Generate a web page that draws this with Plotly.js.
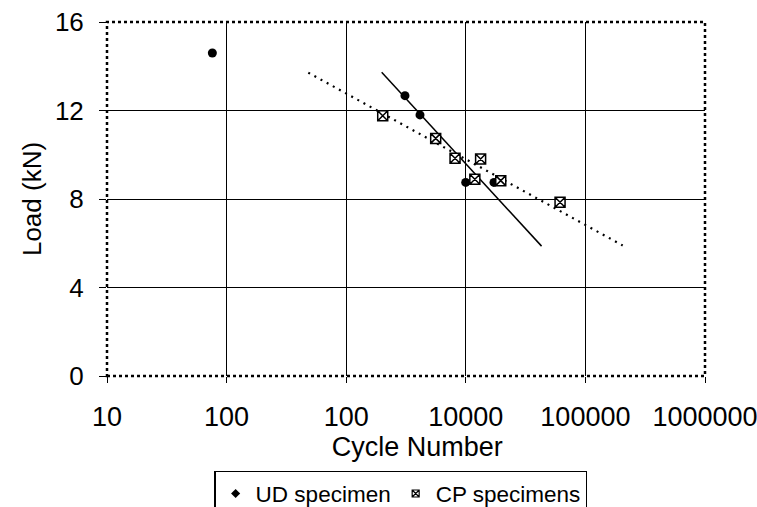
<!DOCTYPE html>
<html>
<head>
<meta charset="utf-8">
<script src="https://cdn.plot.ly/plotly-3.0.1.min.js"></script>
<style>html,body{margin:0;padding:0;background:#fff;}#chart{width:757px;height:507px;}</style>
</head>
<body>
<div id="chart"></div>
<script>
// UD specimen data
const udCycles = [76, 3100, 4140, 9980, 17200];
const udLoad = [14.6, 12.67, 11.8, 8.75, 8.75];
// CP specimens data
const cpCycles = [2020, 5600, 8130, 13300, 11900, 19600, 61400];
const cpLoad = [11.76, 10.74, 9.84, 9.81, 8.89, 8.83, 7.85];
// Trend lines (endpoints)
const udTrendX = [1980, 43000];
const udTrendY = [13.73, 5.87];
const cpTrendX = [482, 205000];
const cpTrendY = [13.71, 5.9];
// Axis ticks
const xTickVals = [10, 100, 1000, 10000, 100000, 1000000];
const xTickText = ["10", "100", "100", "10000", "100000", "1000000"];
const yTickVals = [0, 4, 8, 12, 16];

const FONT = "Liberation Sans, Arial, sans-serif";

const traces = [
  {x: udTrendX, y: udTrendY, mode: 'lines', line: {color: '#000', width: 1.5}, showlegend: false, hoverinfo: 'skip'},
  {x: cpTrendX, y: cpTrendY, mode: 'lines', line: {color: '#000', width: 2.2, dash: '2px,5px'}, showlegend: false, hoverinfo: 'skip'},
  {x: udCycles, y: udLoad, mode: 'markers', name: 'UD specimen', showlegend: false,
   marker: {symbol: 'circle', size: 9, color: '#000'}},
  {x: cpCycles, y: cpLoad, mode: 'markers', name: 'CP specimens', showlegend: false,
   marker: {symbol: 'square-x', size: 10, color: '#fff', line: {color: '#000', width: 1.5}}},
  // legend entries
  {x: [null], y: [null], mode: 'markers', name: 'UD specimen',
   marker: {symbol: 'diamond', size: 7, color: '#000'}},
  {x: [null], y: [null], mode: 'markers', name: 'CP specimens',
   marker: {symbol: 'square-x', size: 7, color: '#fff', line: {color: '#000', width: 1.2}}}
];

const layout = {
  width: 757, height: 507,
  margin: {l: 107, r: 52, t: 22, b: 131, autoexpand: false},
  paper_bgcolor: '#fff', plot_bgcolor: '#fff',
  font: {family: FONT, color: '#000', size: 24},
  showlegend: true,
  legend: {
    orientation: 'h', x: 0.491, xanchor: 'center', y: -0.268, yanchor: 'top',
    bordercolor: '#000', borderwidth: 1.5, bgcolor: '#fff',
    font: {family: FONT, size: 22.5, color: '#000'},
    itemwidth: 30, tracegroupgap: 0
  },
  xaxis: {
    type: 'log', range: [1, 6],
    tickvals: xTickVals, ticktext: xTickText,
    ticks: 'outside', ticklen: 6, tickcolor: '#000', tickwidth: 1,
    showgrid: true, gridcolor: '#000', gridwidth: 1,
    showline: false, zeroline: false, automargin: false,
    ticklabeloverflow: 'allow',
    tickfont: {family: FONT, size: 27, color: '#000'},
    ticklabelstandoff: 11,
    title: {text: '&nbsp;&nbsp;&nbsp;Cycle Number', font: {family: FONT, size: 27, color: '#000'}, standoff: 0}
  },
  yaxis: {
    range: [0, 16], tickvals: yTickVals,
    ticks: 'outside', ticklen: 7, tickcolor: '#000', tickwidth: 1,
    showgrid: true, gridcolor: '#000', gridwidth: 1,
    showline: false, zeroline: false, automargin: false,
    tickfont: {family: FONT, size: 26, color: '#000'},
    ticklabelstandoff: 10,
    title: {text: 'Load (kN)', font: {family: FONT, size: 26, color: '#000'}, standoff: 5}
  },
  shapes: [
    {type: 'rect', xref: 'paper', yref: 'paper', x0: 0, x1: 1, y0: 0, y1: 1,
     line: {color: '#000', width: 2.5, dash: 'dot'}, fillcolor: 'rgba(0,0,0,0)', layer: 'above'}
  ]
};

Plotly.newPlot('chart', traces, layout, {staticPlot: true, displayModeBar: false});
</script>
</body>
</html>
